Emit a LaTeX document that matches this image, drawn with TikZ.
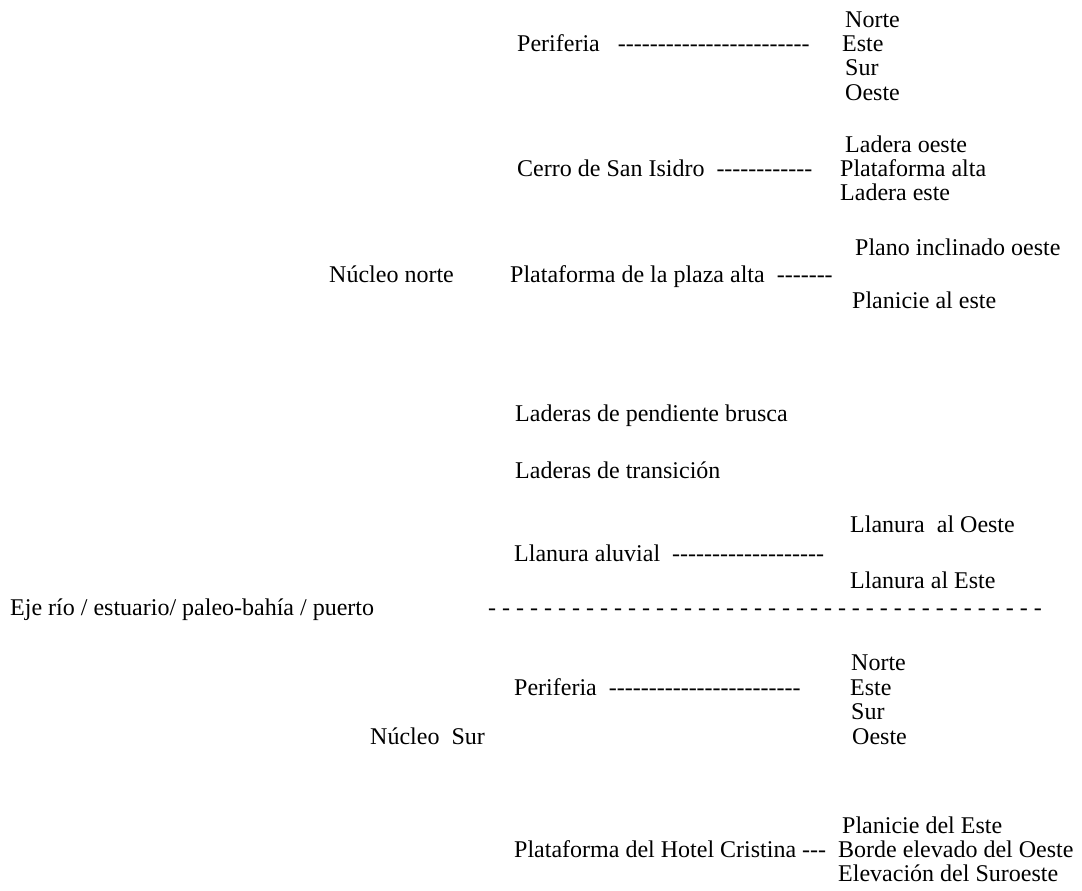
\documentclass[tikz,border=0pt]{standalone}
\usepackage{fontspec}
\setmainfont{Liberation Serif}
\usetikzlibrary{positioning}

\newcommand{\guiones}[1]{\foreach\k in {1,...,#1}{-\kern0pt}}
\newcommand{\guionesesp}[1]{\foreach\k in {1,...,#1}{-\space}}

\tikzset{lbl/.style={anchor=base west,inner sep=0pt,
		font=\fontsize{24}{24}\selectfont}}

\begin{document}
\begin{tikzpicture}[x=1pt,y=-1pt]
	\useasboundingbox (0,0) rectangle (1082,891);
	
	% nucleo norte
	\node[lbl] (nnorte) at (329,282) {Núcleo norte};
	\node[lbl] (periA) at (517,52) {Periferia\ \ \ \guiones{24}};
	\foreach \x/\y/\n/\t in {845/28/a/Norte,842/52/b/Este,845/76/c/Sur,845/100/d/Oeste}
		\node[lbl] (periA-\n) at (\x,\y) {\t};
	
	\node[lbl] (cerro) at (517,176) {Cerro de San Isidro\ \ \guiones{12}};
	\node[lbl] (cerro-a) at (845,152) {Ladera oeste};
	\node[lbl] (cerro-b) at (840,176) {Plataforma alta};
	\node[lbl] (cerro-c) at (840,200) {Ladera este};
	
	\node[lbl] (plaza) at (510,282) {Plataforma de la plaza alta\ \ \guiones{7}};
	\node[lbl] (plaza-a) at (855,255) {Plano inclinado oeste};
	\node[lbl] (plaza-b) at (852,308) {Planicie al este};
	
	\node[lbl] (brusca) at (515,421) {Laderas de pendiente brusca};
	\node[lbl] (transic) at (515,478) {Laderas de transición};
	
	\node[lbl] (llanura) at (514,561) {Llanura aluvial\ \ \guiones{19}};
	\node[lbl] (llanura-a) at (850,532) {Llanura\ \ al Oeste};
	\node[lbl] (llanura-b) at (850,588) {Llanura al Este};
	
	% eje
	\node[lbl] (eje) at (10,615) {Eje río / estuario/ paleo-bahía / puerto};
	\node[lbl] (ejeguion) at (488,615) {\guionesesp{40}};
	
	% nucleo sur
	\node[lbl] (nsur) at (370,744) {Núcleo\ \ Sur};
	\node[lbl] (periB) at (514,695) {Periferia\ \ \guiones{24}};
	\foreach \x/\y/\n/\t in {851/670/a/Norte,850/695/b/Este,851/719/c/Sur,852/744/d/Oeste}
		\node[lbl] (periB-\n) at (\x,\y) {\t};
	
	\node[lbl] (hotel) at (514,857) {Plataforma del Hotel Cristina \guiones{3}};
	\node[lbl] (hotel-a) at (842,833) {Planicie del Este};
	\node[lbl] (hotel-b) at (838,857) {Borde elevado del Oeste};
	\node[lbl] (hotel-c) at (838,881) {Elevación del Suroeste};
\end{tikzpicture}
\end{document}
